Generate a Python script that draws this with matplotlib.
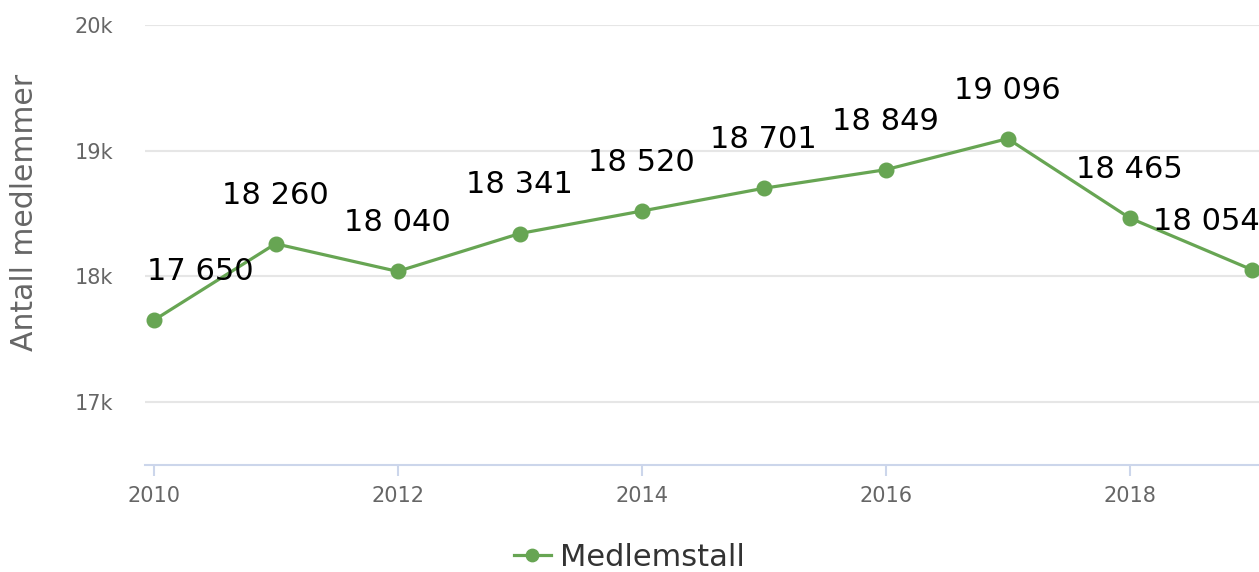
import matplotlib
matplotlib.use('Agg')
import matplotlib.pyplot as plt
from matplotlib.ticker import FuncFormatter

years = [2010, 2011, 2012, 2013, 2014, 2015, 2016, 2017, 2018, 2019]
members = [17650, 18260, 18040, 18341, 18520, 18701, 18849, 19096, 18465, 18054]
series_name = 'Medlemstall'
y_title = 'Antall medlemmer'

plt.rcParams['font.family'] = ['DejaVu Sans']
green = '#67a553'

fig = plt.figure(figsize=(12.59, 5.72), dpi=100)
ax = fig.add_axes([145 / 1259, 107 / 572, 1 - 145 / 1259, 440 / 572])

ax.plot(years, members, color=green, lw=2.3, marker='o', ms=10.5, label=series_name,
        zorder=3, clip_on=False)

def fmt(v):
    return f'{v:,}'.replace(',', ' ')

for i, (x, y) in enumerate(zip(years, members)):
    if i == 0:
        ha, dx = 'left', -5
    elif i == len(years) - 1:
        ha, dx = 'right', 6
    else:
        ha, dx = 'center', 0
    ax.annotate(fmt(y), (x, y), xytext=(dx, 35), textcoords='offset points',
                ha=ha, va='center', fontsize=22, color='black', zorder=4)

ax.set_xlim(2009.93, 2019.06)
ax.set_ylim(16500, 20000)
ax.set_yticks([17000, 18000, 19000, 20000])
ax.yaxis.set_major_formatter(FuncFormatter(lambda v, p: f'{int(v / 1000)}k'))
ax.set_xticks([2010, 2012, 2014, 2016, 2018])
ax.grid(axis='y', color='#e6e6e6', lw=1.5)
ax.set_axisbelow(True)
for s in ['top', 'right', 'left']:
    ax.spines[s].set_visible(False)
ax.spines['bottom'].set_color('#ccd6eb')
ax.spines['bottom'].set_linewidth(1.5)
ax.tick_params(axis='x', colors='#ccd6eb', length=8, width=1.5, labelcolor='#666666',
               labelsize=15, pad=7)
ax.tick_params(axis='y', length=0, labelcolor='#666666', labelsize=15, pad=23)
ax.set_ylabel(y_title, fontsize=21.5, color='#666666')
ax.yaxis.set_label_coords(-0.095, 0.573)

fig.legend(loc='center', bbox_to_anchor=(0.5, 0.026), frameon=False, fontsize=22,
           labelcolor='#333333', handlelength=1.2, handletextpad=0.3, markerscale=0.85)

fig.savefig('out.png', dpi=100)
